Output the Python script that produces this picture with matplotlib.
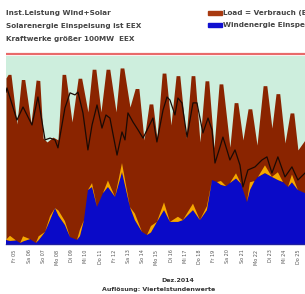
from matplotlib import pyplot as plt
import numpy as np

# time in days from the left edge of the chart, values in GW
load_t = [0.00, 0.15, 0.35, 0.77, 1.08, 1.32, 1.76, 2.12, 2.38, 2.61, 2.89, 3.31, 3.66,
          3.95, 4.20, 4.65, 5.08, 5.33, 5.77, 6.07, 6.33, 6.69, 7.05, 7.31, 7.75, 8.04, 8.30,
          8.73, 9.10, 9.36, 9.72, 10.08, 10.34, 10.63, 11.00, 11.26, 11.62, 11.98, 12.24,
          12.68, 13.04, 13.30, 13.66, 14.02, 14.28, 14.65, 15.01, 15.27, 15.77, 16.07, 16.33,
          16.69, 17.05, 17.31, 17.68, 18.11, 18.37, 18.73, 19.02, 19.28, 19.65, 20.01, 20.27,
          20.56, 21.06]
load = [64.6, 66.0, 66.0, 46.7, 64.0, 64.0, 47.1, 63.8, 63.6, 41.2, 39.7, 41.6, 40.5,
        66.0, 66.0, 47.5, 64.5, 64.5, 51.4, 68.0, 68.0, 51.4, 68.0, 68.0, 51.4, 68.5, 68.5,
        53.3, 60.5, 60.5, 40.5, 54.5, 54.5, 41.2, 66.5, 66.5, 46.3, 65.5, 65.5,
        41.2, 65.5, 65.5, 39.7, 63.5, 63.5, 37.4, 62.3, 62.3, 37.7, 55.0, 55.0,
        40.5, 52.6, 52.6, 38.5, 61.6, 61.6, 45.1, 58.5, 58.5, 39.3, 51.0, 51.0,
        36.6, 40.5]

kw_t = [0.00, 0.07, 0.77, 1.20, 1.83, 2.25, 2.75, 3.10, 3.45, 3.66, 4.15, 4.51, 4.86, 5.07,
        5.42, 5.77, 6.06, 6.41, 6.76, 7.04, 7.32, 7.82, 8.17, 8.38, 8.59, 8.94, 9.30, 9.65,
        10.00, 10.35, 10.63, 11.06, 11.34, 11.55, 11.90, 12.11, 12.39, 12.75, 13.17, 13.45,
        13.87, 14.23, 14.51, 14.72, 15.07, 15.28, 15.56, 15.77, 16.13, 16.48, 16.69, 17.04,
        17.54, 18.03, 18.38, 18.73, 19.15, 19.65, 20.14, 20.56, 21.06]
kraftwerke = [59.1, 60.7, 48.2, 53.3, 46.3, 57.2, 40.5, 41.2, 40.5, 37.4, 52.9, 58.8, 58.0, 59.1,
              51.0, 36.6, 46.3, 54.1, 45.1, 50.2, 49.0, 34.6, 43.6, 40.5, 51.0, 47.5, 44.4, 41.2,
              45.1, 49.0, 39.7, 52.1, 57.2, 56.0, 50.2, 56.8, 54.9, 41.6, 54.9, 54.9,
              43.2, 49.0, 44.4, 31.5, 37.7, 41.6, 36.6, 32.7, 36.6, 30.7, 22.2, 28.8,
              30.0, 32.7, 33.9, 27.6, 33.9, 26.1, 30.0, 24.9, 27.6]

wind_t = [0.00, 0.28, 0.70, 1.00, 1.20, 1.69, 2.10, 2.30, 2.75, 3.10, 3.45, 3.70, 4.15, 4.51,
          5.00, 5.21, 5.49, 5.77, 6.06, 6.41, 6.83, 7.18, 7.68, 8.17, 8.73, 9.08, 9.58, 9.93,
          10.21, 10.63, 11.13, 11.55, 12.11, 12.46, 13.17, 13.66, 14.15, 14.51, 14.86, 15.14,
          15.50, 15.77, 16.20, 16.55, 16.97, 17.18, 17.50, 17.75, 18.24, 18.73, 19.15, 19.51,
          19.86, 20.14, 20.56, 21.06]
wind = [1.6, 1.2, 1.4, 0.4, 1.0, 1.9, 0.4, 1.5, 4.7, 9.3, 14.0, 11.0, 7.4, 2.7,
        1.6, 3.1, 9.3, 21.0, 22.2, 14.4, 19.8, 22.2, 18.3, 28.0, 14.4, 9.3, 4.7, 3.5,
        4.5, 8.6, 13.2, 8.6, 8.6, 9.3, 13.2, 9.3, 13.2, 24.9, 24.1, 23.0,
        22.5, 23.7, 25.5, 23.5, 16.3, 21.0, 24.5, 26.1, 27.6, 26.1, 24.9, 24.1,
        22.2, 24.0, 21.0, 19.8]
solar = [0, 2.0, 0, 0, 2.0, 0, 0, 1.5, 0, 1.5, 0, 2.0, 1.5, 0,
         0, 2.5, 0, 0, 1.5, 0, 0, 2.5, 0, 3.5, 0, 2.5, 0, 0,
         2.5, 0, 3.0, 0, 2.0, 0, 2.5, 0, 1.5, 0, 0, 1.5,
         0, 0, 2.0, 0, 0, 3.0, 0, 0, 3.0, 0, 3.0, 0,
         0, 3.0, 0, 0]

inst_leistung = 74.0
green_level = 73.0

tick_days = [5, 6, 7, 8, 9, 10, 11, 12, 13, 14, 15, 16, 17, 18, 19, 20, 21, 22, 23, 24, 25]
tick_wd = ['Fr', 'Sa', 'So', 'Mo', 'Di', 'Mi', 'Do', 'Fr', 'Sa', 'So', 'Mo', 'Di', 'Mi',
           'Do', 'Fr', 'Sa', 'So', 'Mo', 'Di', 'Mi', 'Do']

fig = plt.figure(figsize=(3.05, 2.94), dpi=100)
ax = fig.add_axes([6 / 305, 1 - 244 / 294, 1 - 6 / 305, 192 / 294])

ax.fill_between([0, 21.06], 0, green_level, color='#cdeedd', lw=0)
ax.plot([0, 21.06], [inst_leistung, inst_leistung], color='#e86a6a', lw=1.6)
ax.fill_between(load_t, 0, load, color='#8a2400', lw=0)
ax.stackplot(wind_t, wind, solar, colors=['#0a0ac8', '#f5a800'], lw=0)
ax.plot(kw_t, kraftwerke, color='#1a0a05', lw=0.9)

ax.set_xlim(0, 21.06)
ax.set_ylim(0, 74.7)
ax.set_yticks([])
ax.set_xticks([0.63 + k for k in range(len(tick_days))])
ax.set_xticklabels([wd + ' %02d' % d for wd, d in zip(tick_wd, tick_days)],
                   rotation=90, fontsize=3.5, color='#555555')
ax.tick_params(axis='x', length=0, pad=4)
for s in ['top', 'left', 'right']:
    ax.spines[s].set_visible(False)
ax.spines['bottom'].set_color('#2020a0')
ax.spines['bottom'].set_linewidth(1.0)

# legend texts
txt = dict(fontsize=5.2, color='#444444', fontweight='bold', va='center')
fig.text(6 / 305, 1 - 13 / 294, 'Inst.Leistung Wind+Solar', **txt)
fig.text(6 / 305, 1 - 26 / 294, 'Solarenergie Einspeisung ist EEX', **txt)
fig.text(6 / 305, 1 - 39 / 294, 'Kraftwerke größer 100MW  EEX', **txt)
fig.patches.append(plt.Rectangle((208 / 305, 1 - 15 / 294), 14 / 305, 4 / 294,
                                 color='#a83a10', transform=fig.transFigure, figure=fig))
fig.patches.append(plt.Rectangle((208 / 305, 1 - 27 / 294), 14 / 305, 4 / 294,
                                 color='#1010d0', transform=fig.transFigure, figure=fig))
fig.text(223 / 305, 1 - 13 / 294, 'Load = Verbrauch (EEX)', **txt)
fig.text(223 / 305, 1 - 25 / 294, 'Windenergie Einspeisung', **txt)

fig.text(178 / 305, 1 - 280 / 294, 'Dez.2014', fontsize=4.5, color='#333333',
         fontweight='bold', ha='center', va='center')
fig.text(159 / 305, 1 - 289 / 294, 'Auflösung: Viertelstundenwerte', fontsize=4.5,
         color='#333333', fontweight='bold', ha='center', va='center')

fig.savefig('out.png', dpi=100)
